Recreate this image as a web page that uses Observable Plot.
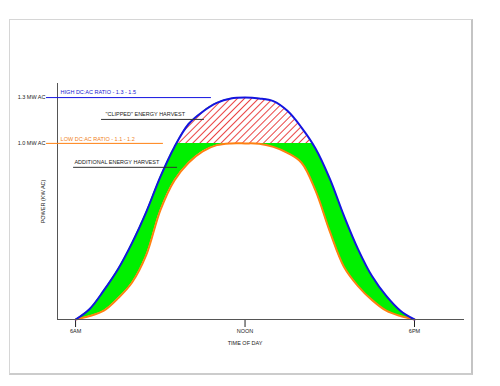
<!DOCTYPE html>
<html><head><meta charset="utf-8">
<script src="https://cdn.jsdelivr.net/npm/d3@7"></script>
<script src="https://cdn.jsdelivr.net/npm/@observablehq/plot@0.6"></script>
<style>
body{margin:0;background:#fff;}
#wrap{position:relative;width:500px;height:386px;overflow:hidden;}
#frame{position:absolute;left:9px;top:19px;width:464px;height:356px;box-sizing:border-box;border:1px solid #d6d6d6;border-right:2px solid #c4c4c4;border-bottom:2px solid #cccccc;}
#chart{position:absolute;left:0;top:0;}
</style></head><body><div id="wrap"><div id="frame"></div><div id="chart"></div></div>
<script>
// Time of day (hours) and power (relative to 1.0 MW AC inverter limit)
const hours = [6,6.5,7,7.5,8,8.5,9,9.5,10,10.5,11,11.5,12,12.5,13,13.5,14,14.5,15,15.5,16,16.5,17,17.5,18];
const highRatio = [0,0.06,0.165,0.285,0.435,0.61,0.81,0.98,1.11,1.18,1.23,1.255,1.26,1.255,1.24,1.185,1.09,0.97,0.80,0.59,0.40,0.245,0.134,0.05,0];
const lowRatio  = [0,0.02,0.05,0.12,0.21,0.365,0.62,0.79,0.89,0.955,0.99,1.0,1.0,0.998,0.98,0.946,0.89,0.73,0.5,0.3,0.19,0.11,0.05,0.02,0];
const xTicks = [6,12,18];
const xTickLabels = ["6AM","NOON","6PM"];
const yTickLabels = ["1.0 MW AC","1.3 MW AC"];
const clipLevel = 1.0;

const rows = hours.map((h,i)=>({h, high: highRatio[i], low: lowRatio[i]}));
const peakHigh = d3.max(highRatio);
const yTicks = [clipLevel, peakHigh];
const xLab = new Map(xTicks.map((t,i)=>[t,xTickLabels[i]]));
const yLab = new Map(yTicks.map((t,i)=>[t,yTickLabels[i]]));

const xMin = 5.36, xMax = 19.77, yMax = 1.34;
const blue = "#1414e0", orange = "#ff8010", green = "#00f000", axisC = "#555";
const font = "'Liberation Sans', Arial, sans-serif";

const chart = Plot.plot({
  width: 500, height: 386,
  marginLeft: 57, marginRight: 36, marginTop: 83, marginBottom: 67,
  style: {fontFamily: font, fontSize: "5.5px", background: "transparent", color: "#222"},
  x: {domain: [xMin, xMax], ticks: xTicks, tickFormat: d => xLab.get(d), tickSize: 8, tickPadding: 2, label: null},
  y: {domain: [0, yMax], ticks: yTicks, tickFormat: d => yLab.get(d), tickSize: 0, tickPadding: 12, label: null},
  marks: [
    Plot.areaY(rows, {x: "h", y1: "low", y2: "high", fill: green, curve: "catmull-rom"}),
    Plot.areaY(rows, {x: "h", y1: () => clipLevel, y2: "high", fill: "white", curve: "catmull-rom", className: "clipped-area"}),
    Plot.line(rows, {x: "h", y: "low", stroke: orange, strokeWidth: 2, curve: "catmull-rom"}),
    Plot.line(rows, {x: "h", y: "high", stroke: blue, strokeWidth: 2, curve: "catmull-rom"}),
    Plot.ruleY([0], {stroke: axisC, strokeWidth: 1}),
    Plot.ruleX([xMin], {y1: 0, y2: yMax, stroke: axisC, strokeWidth: 1}),
    Plot.ruleY([peakHigh], {x1: 4.97, x2: 10.81, stroke: blue, strokeWidth: 1}),
    Plot.ruleY([clipLevel], {x1: 4.97, x2: 9.11, stroke: orange, strokeWidth: 1}),
    Plot.ruleY([1.136], {x1: 6.92, x2: 10.56, stroke: "#333", strokeWidth: 1}),
    Plot.ruleY([0.864], {x1: 5.93, x2: 9.61, stroke: "#333", strokeWidth: 1}),
    Plot.text(["HIGH DC:AC RATIO - 1.3 - 1.5"], {text: d => d, x: 5.47, y: 1.29, textAnchor: "start", fill: "#2020d0"}),
    Plot.text(["LOW DC:AC RATIO - 1.1 - 1.2"], {text: d => d, x: 5.47, y: 1.023, textAnchor: "start", fill: "#f08020"}),
    Plot.text(['"CLIPPED" ENERGY HARVEST'], {text: d => d, x: 7.06, y: 1.165, textAnchor: "start", fill: "#222"}),
    Plot.text(["ADDITIONAL ENERGY HARVEST"], {text: d => d, x: 5.96, y: 0.892, textAnchor: "start", fill: "#222"}),
    Plot.text(["POWER (KW AC)"], {text: d => d, frameAnchor: "left", rotate: -90, dx: -14, textAnchor: "middle", fill: "#222"}),
    Plot.text(["TIME OF DAY"], {text: d => d, x: 12, frameAnchor: "bottom", dy: 25, textAnchor: "middle", fill: "#222"})
  ]
});

// hatch pattern + clip so the "clipped" area shows only above the 1.0 MW line
const svg = d3.select(chart);
const defs = svg.insert("defs", ":first-child");
const pat = defs.append("pattern").attr("id", "hatch").attr("patternUnits", "userSpaceOnUse")
  .attr("width", 5).attr("height", 5).attr("patternTransform", "rotate(45)");
pat.append("rect").attr("width", 5).attr("height", 5).attr("fill", "white");
pat.append("line").attr("x1", 2.5).attr("y1", 0).attr("x2", 2.5).attr("y2", 5).attr("stroke", "#e83030").attr("stroke-width", 0.9);
const yClip = chart.scale("y").apply(clipLevel);
defs.append("clipPath").attr("id", "clipTop").append("rect")
  .attr("x", 0).attr("y", 0).attr("width", 500).attr("height", yClip);
const g = svg.select("g.clipped-area");
if (!g.empty() && !g.select("path").empty()) {
  g.attr("fill", "url(#hatch)").attr("clip-path", "url(#clipTop)");
  g.selectAll("path").attr("fill", null);
}

document.getElementById("chart").appendChild(chart);
</script>
</body></html>
